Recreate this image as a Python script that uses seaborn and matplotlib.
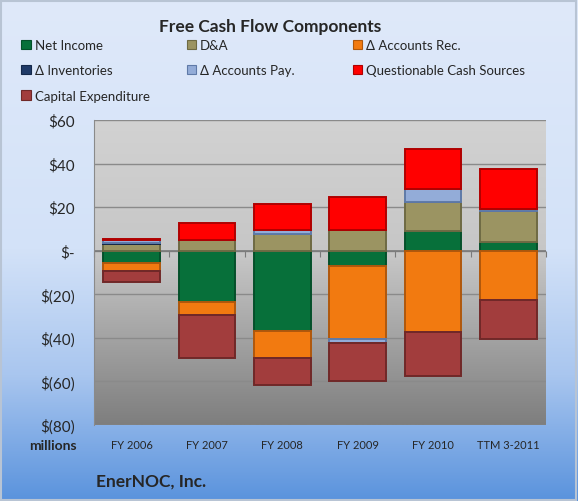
"""Free cash flow components for EnerNOC, stacked by year."""
import numpy as np
import pandas as pd
import seaborn as sns
from matplotlib import pyplot as plt
from matplotlib.colors import LinearSegmentedColormap
from matplotlib.patches import Patch

years = ["FY 2006", "FY 2007", "FY 2008", "FY 2009", "FY 2010", "TTM 3-2011"]
net_income = [-5.6, -23.5, -37.0, -6.9, 9.2, 4.1]
d_and_a = [3.2, 4.9, 7.6, 9.5, 13.3, 14.2]
accounts_rec = [-3.7, -5.8, -12.2, -33.6, -37.4, -22.5]
inventories = [0.5, 0.0, 0.0, 0.0, 0.0, 0.0]
accounts_pay = [1.0, 0.0, 1.8, -2.0, 5.8, 0.7]
questionable = [0.6, 8.0, 12.2, 15.3, 18.3, 18.7]
capex = [-5.0, -19.9, -12.5, -17.1, -19.9, -17.9]

series_names = ["Net Income", "D&A", "\u0394 Accounts Rec.", "\u0394 Inventories",
                "\u0394 Accounts Pay.", "Questionable Cash Sources", "Capital Expenditure"]
series_values = [net_income, d_and_a, accounts_rec, inventories,
                 accounts_pay, questionable, capex]
colors = ["#07703a", "#9b9462", "#f27a10", "#1f3a68", "#93acd8", "#ff0000", "#a23d3d"]
edges = ["#04502a", "#6e6a44", "#b0580c", "#14284a", "#5f7aa8", "#b00000", "#702828"]

sns.set_style("white")
plt.rcParams["font.family"] = ["Lato", "DejaVu Sans"]

fig = plt.figure(figsize=(5.78, 5.02), dpi=100)

# blue gradient behind everything
bg = fig.add_axes([0, 0, 1, 1], zorder=-10)
bg_cmap = LinearSegmentedColormap.from_list(
    "bg", [(0, "#dfe9fa"), (0.5, "#d3e2f8"), (0.75, "#a9c6ef"), (1, "#5a93dd")])
bg.imshow(np.linspace(0, 1, 256)[:, None], aspect="auto", cmap=bg_cmap,
          extent=(0, 1, 0, 1), origin="upper")
bg.set_xlim(0, 1)
bg.set_ylim(0, 1)
bg.set_axis_off()
fig.patches.append(plt.Rectangle((0.002, 0.002), 0.995, 0.994, transform=fig.transFigure,
                                 fill=False, edgecolor="#b8c4d4", lw=1.5, zorder=-5))

ax = fig.add_axes([0.1626, 0.1514, 0.782, 0.6076])
ax.set_ylim(-80, 60)
ax.set_xlim(-0.5, 5.5)
plot_cmap = LinearSegmentedColormap.from_list(
    "plot", [(0, "#d2d2d2"), (0.45, "#c6c6c6"), (1, "#7e7e7e")])
ax.imshow(np.linspace(0, 1, 256)[:, None], aspect="auto", cmap=plot_cmap,
          extent=(-0.5, 5.5, -80, 60), origin="upper", zorder=0)

pos_base = np.zeros(len(years))
neg_base = np.zeros(len(years))
for name, vals, c, ec in zip(series_names, series_values, colors, edges):
    vals = np.array(vals)
    bottom = np.where(vals >= 0, pos_base, neg_base)
    df = pd.DataFrame({"year": years, "value": vals})
    sns.barplot(data=df, x="year", y="value", order=years, bottom=bottom,
                color=c, saturation=1, width=0.75, edgecolor=ec, linewidth=1.4,
                errorbar=None, ax=ax, zorder=3)
    pos_base = pos_base + np.clip(vals, 0, None)
    neg_base = neg_base + np.clip(vals, None, 0)

ax.set_xlim(-0.5, 5.5)
ax.set_ylim(-80, 60)
ax.set_yticks(range(-80, 61, 20))
ax.set_yticklabels(["$(80)", "$(60)", "$(40)", "$(20)", "$-", "$20", "$40", "$60"],
                   fontsize=11)
ax.tick_params(axis="y", length=0, pad=14)
ax.tick_params(axis="x", length=0, labelsize=8, pad=10)
for yv in range(-80, 61, 20):
    ax.axhline(yv, color="#8a8a8a", lw=1.0, zorder=1)
ax.axhline(0, color="#7a7a7a", lw=1.2, zorder=2)
zero_axis = ax.secondary_xaxis(80 / 140)
zero_axis.set_xticks(np.arange(-0.5, 6.0, 1.0))
zero_axis.set_xticklabels([])
zero_axis.tick_params(direction="in", length=4, color="#7a7a7a")
zero_axis.spines["bottom"].set_visible(False)
zero_axis.spines["top"].set_visible(False)
ax.set_xlabel("")
ax.set_ylabel("")
for side in ["top", "right", "bottom"]:
    ax.spines[side].set_visible(False)
ax.spines["left"].set_color("#8a8a8a")

fig.text(0.468, 0.947, "Free Cash Flow Components", ha="center", va="center",
         fontsize=12.5, fontweight="bold")
fig.text(0.05, 0.111, "millions", ha="left", va="center", fontsize=10,
         fontweight="bold")
fig.text(0.166, 0.04, "EnerNOC, Inc.", ha="left", va="center", fontsize=12.5,
         fontweight="bold")

handles = [Patch(facecolor=c, edgecolor=ec, lw=0.8) for c, ec in zip(colors, edges)]
groups = [[0, 3, 6], [1, 4], [2, 5]]
starts = [0.037, 0.323, 0.610]
for idx, x0 in zip(groups, starts):
    leg = fig.legend([handles[i] for i in idx], [series_names[i] for i in idx],
                     loc="upper left", bbox_to_anchor=(x0, 0.920), frameon=False,
                     fontsize=9.5, handlelength=0.7, handleheight=0.7,
                     handletextpad=0.3, labelspacing=1.0, borderaxespad=0,
                     borderpad=0)

fig.savefig("out.png", dpi=100)
